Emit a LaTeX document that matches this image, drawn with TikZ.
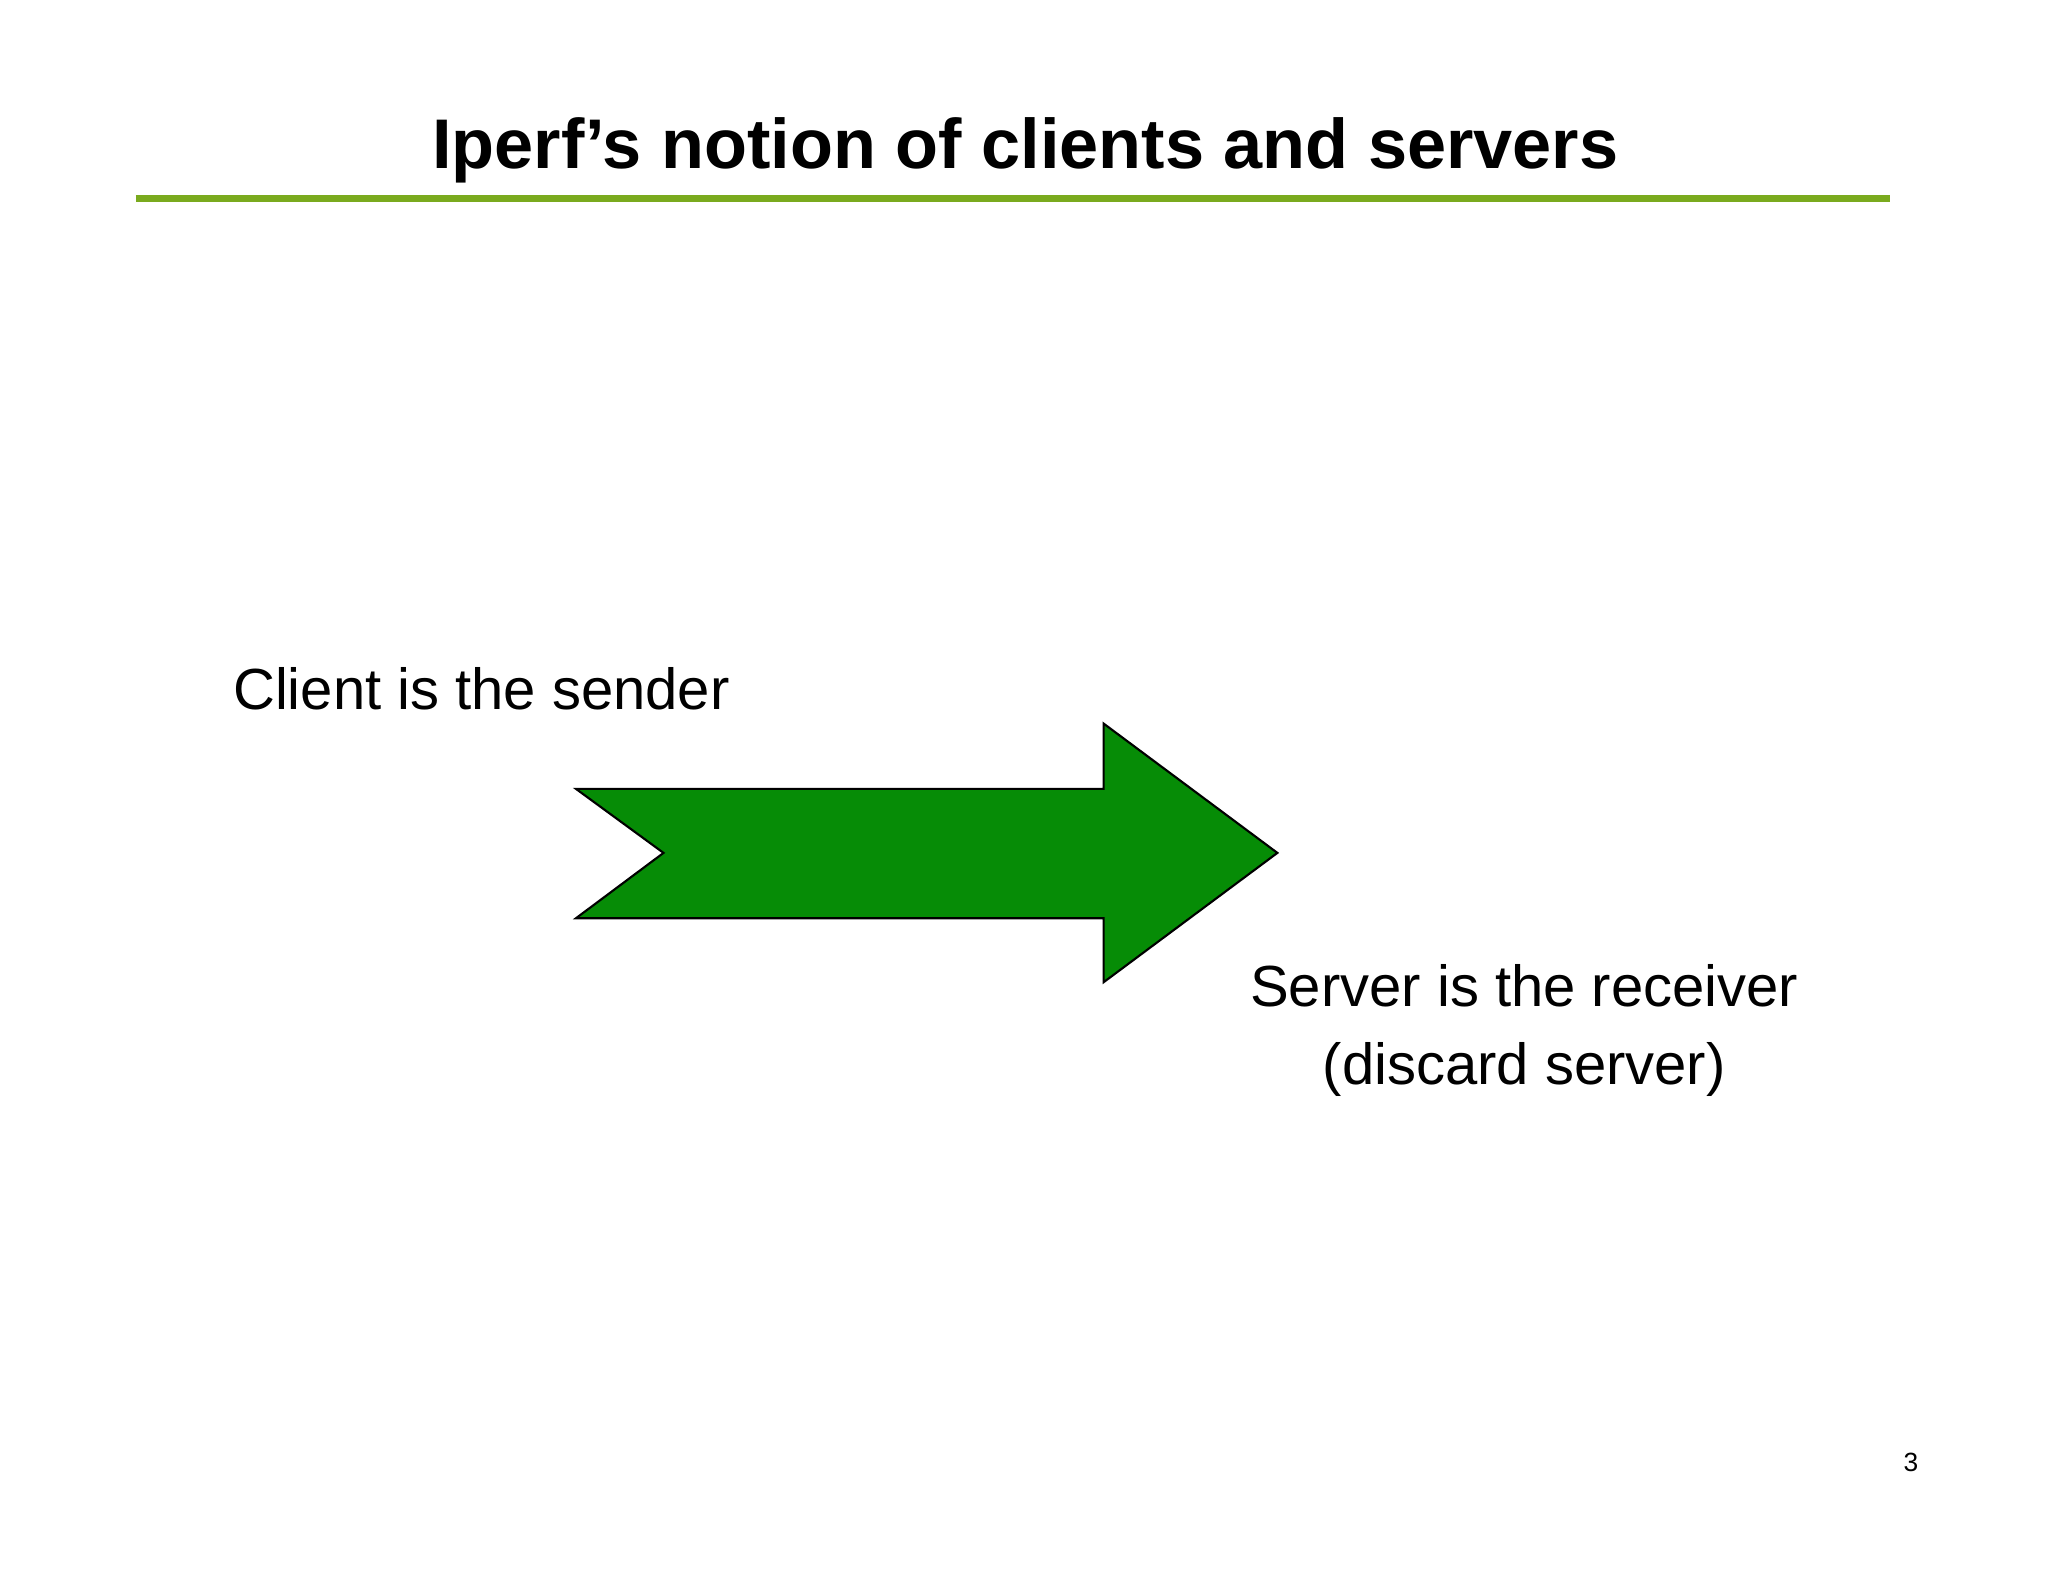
\documentclass[tikz,border=0pt]{standalone}
\usepackage{fontspec}
\setmainfont{Liberation Sans}
\definecolor{rule}{RGB}{122,170,30}
\definecolor{arrowgreen}{RGB}{6,140,6}
\begin{document}
\begin{tikzpicture}[x=0.01306cm,y=-0.01306cm,
  lbl/.style={inner sep=0pt,font=\fontsize{16.5}{20}\selectfont,align=center}]
\useasboundingbox[fill=white] (0,0) rectangle (1568,1211);
\node[inner sep=0pt,font=\fontsize{20}{24}\selectfont\bfseries] (title) at (785,115) {Iperf’s notion of clients and servers};
\coordinate (l1) at (104,152); \coordinate (l2) at (1447,152);
\draw[rule,line width=2.2pt] (l1) -- (l2);
\draw[fill=arrowgreen,draw=black,line width=0.6pt] (441,604) -- (845,604) -- (845,554) -- (978,653) -- (845,752) -- (845,703) -- (441,703) -- (508,653) -- cycle;
\node[lbl,anchor=west] (client) at (178,527) {Client is the sender};
\node[lbl] (server) at (1167,789) {Server is the receiver\\[2pt](discard server)};
\node[inner sep=0pt,font=\fontsize{7.5}{9}\selectfont] (page) at (1463,1120) {3};
\end{tikzpicture}
\end{document}
